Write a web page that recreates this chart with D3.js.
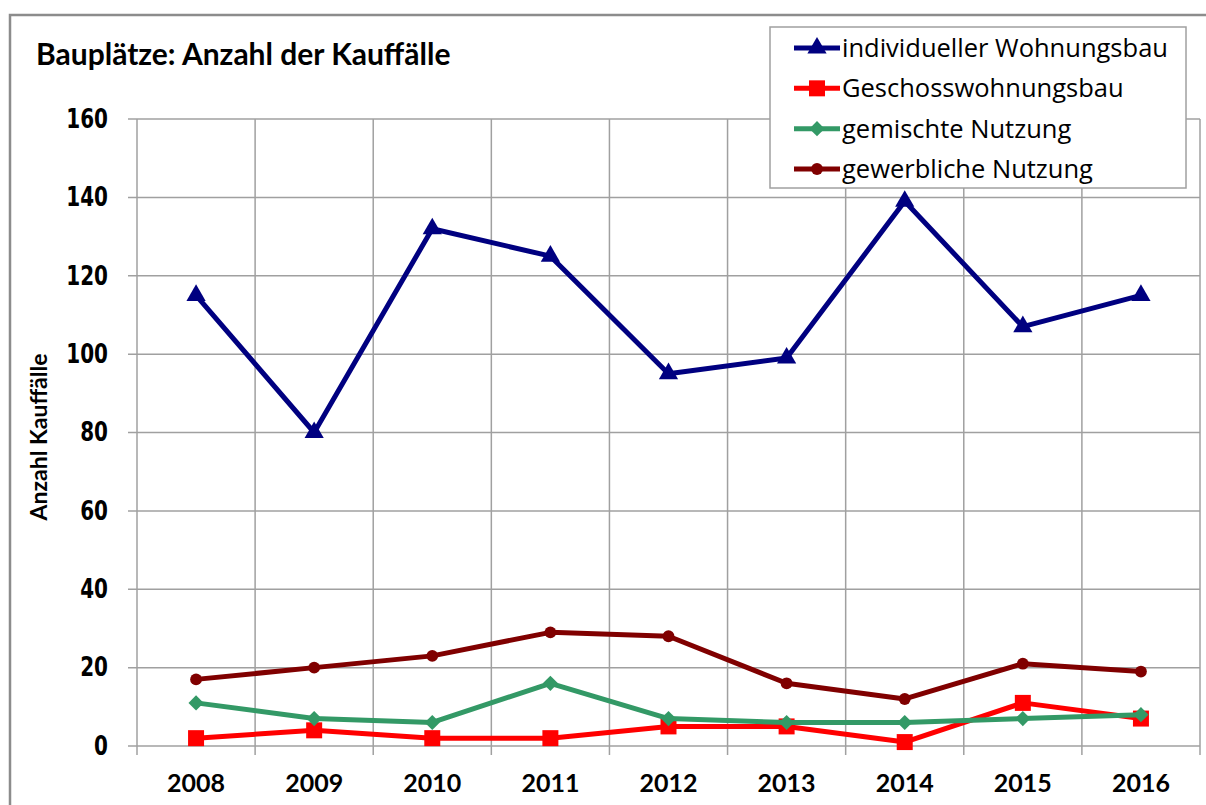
<!DOCTYPE html>
<html>
<head>
<meta charset="utf-8">
<script src="https://cdn.jsdelivr.net/npm/d3@7"></script>
<style>
  body { margin: 0; background: #fff; }
  svg { display: block; }
</style>
</head>
<body>
<svg id="chart"></svg>
<script>
let width = 1206
let height = 805

let years = ["2008", "2009", "2010", "2011", "2012", "2013", "2014", "2015", "2016"]
let yTicks = [0, 20, 40, 60, 80, 100, 120, 140, 160]

let individuell = [115, 80, 132, 125, 95, 99, 139, 107, 115]
let geschoss = [2, 4, 2, 2, 5, 5, 1, 11, 7]
let gemischt = [11, 7, 6, 16, 7, 6, 6, 7, 8]
let gewerblich = [17, 20, 23, 29, 28, 16, 12, 21, 19]

let seriesNames = ["individueller Wohnungsbau", "Geschosswohnungsbau", "gemischte Nutzung", "gewerbliche Nutzung"]
let seriesColors = ["#000080", "#ff0000", "#339966", "#800000"]
let seriesSymbols = [d3.symbolTriangle, d3.symbolSquare, d3.symbolSquare, d3.symbolCircle]
let symbolSizes = [160, 256, 115, 110]
let symbolRotate = [0, 0, 45, 0]
let seriesValues = [individuell, geschoss, gemischt, gewerblich]

let plotLeft = 137, plotRight = 1200, plotTop = 119, plotBottom = 746

let svg = d3.select('#chart')
  .attr('width', width)
  .attr('height', height)

// outer frame
svg.append('rect')
  .attr('x', 10).attr('y', 15)
  .attr('width', 1210).attr('height', 800)
  .attr('fill', 'none')
  .attr('stroke', '#8c8c8c')
  .attr('stroke-width', 2.5)

let xScale = d3.scaleBand()
  .domain(years)
  .range([plotLeft, plotRight])

let yScale = d3.scaleLinear()
  .domain([0, 160])
  .range([plotBottom, plotTop])

// horizontal grid
svg.append('g')
  .selectAll('line')
  .data(yTicks)
  .enter()
  .append('line')
  .attr('x1', plotLeft - 9)
  .attr('x2', plotRight)
  .attr('y1', d => yScale(d))
  .attr('y2', d => yScale(d))
  .attr('stroke', '#a0a0a0')
  .attr('stroke-width', 1.5)

// vertical grid at band edges
let edges = years.map(y => xScale(y)).concat([xScale.range()[1]])
svg.append('g')
  .selectAll('line')
  .data(edges)
  .enter()
  .append('line')
  .attr('x1', d => d)
  .attr('x2', d => d)
  .attr('y1', plotTop)
  .attr('y2', plotBottom + 9)
  .attr('stroke', '#a0a0a0')
  .attr('stroke-width', 1.5)

// y axis labels (stretched vertically like the original)
let yAxis = d3.axisLeft(yScale)
  .tickValues(yTicks)
  .tickSize(0)
  .tickPadding(29)

svg.append('g')
  .attr('transform', 'translate(' + plotLeft + ',0)')
  .call(yAxis)
  .call(g => g.select('.domain').remove())
  .selectAll('text')
  .attr('font-family', 'DejaVu Sans')
  .attr('font-weight', 'bold')
  .attr('font-size', 20)
  .attr('fill', '#000')
  .attr('transform', 'scale(1,1.3)')

// x axis labels
let xAxis = d3.axisBottom(xScale)
  .tickSize(0)
  .tickPadding(28)

svg.append('g')
  .attr('transform', 'translate(0,' + plotBottom + ')')
  .call(xAxis)
  .call(g => g.select('.domain').remove())
  .selectAll('text')
  .attr('font-family', 'Lato')
  .attr('font-weight', 'bold')
  .attr('font-size', 25)
  .attr('fill', '#000')

// y axis title
svg.append('text')
  .attr('transform', 'translate(47,437) rotate(-90)')
  .attr('text-anchor', 'middle')
  .attr('font-family', 'Lato')
  .attr('font-size', 23)
  .attr('font-weight', 'bold')
  .text('Anzahl Kauffälle')

// chart title
svg.append('text')
  .attr('x', 36)
  .attr('y', 65)
  .attr('font-family', 'Lato')
  .attr('font-weight', 'bold')
  .attr('font-size', 30)
  .text('Bauplätze: Anzahl der Kauffälle')

let line = d3.line()
  .x((d, i) => xScale(years[i]) + xScale.bandwidth() / 2)
  .y(d => yScale(d))

seriesValues.forEach((vals, s) => {
  svg.append('path')
    .datum(vals)
    .attr('d', line)
    .attr('fill', 'none')
    .attr('stroke', seriesColors[s])
    .attr('stroke-width', 5)
    .attr('stroke-linejoin', 'round')

  svg.append('g')
    .selectAll('path')
    .data(vals)
    .enter()
    .append('path')
    .attr('transform', (d, i) => 'translate(' + (xScale(years[i]) + xScale.bandwidth() / 2) + ',' + yScale(d) + ') rotate(' + symbolRotate[s] + ')')
    .attr('d', d3.symbol().type(seriesSymbols[s]).size(symbolSizes[s]))
    .attr('fill', seriesColors[s])
})

// legend
let legend = svg.append('g')
legend.append('rect')
  .attr('x', 770).attr('y', 27)
  .attr('width', 416).attr('height', 161)
  .attr('fill', '#fff')
  .attr('stroke', '#a0a0a0')
  .attr('stroke-width', 1.5)

let legendY = d3.scalePoint()
  .domain(seriesNames)
  .range([48, 169])

seriesNames.forEach((name, s) => {
  let ly = legendY(name)
  legend.append('line')
    .attr('x1', 794).attr('x2', 840)
    .attr('y1', ly).attr('y2', ly)
    .attr('stroke', seriesColors[s])
    .attr('stroke-width', 5)
  legend.append('path')
    .attr('transform', 'translate(817,' + ly + ') rotate(' + symbolRotate[s] + ')')
    .attr('d', d3.symbol().type(seriesSymbols[s]).size(symbolSizes[s]))
    .attr('fill', seriesColors[s])
  legend.append('text')
    .attr('x', 842)
    .attr('y', ly)
    .attr('dy', '0.35em')
    .attr('font-family', 'Open Sans')
    .attr('font-size', 25.5)
    .text(name)
})
</script>
</body>
</html>
